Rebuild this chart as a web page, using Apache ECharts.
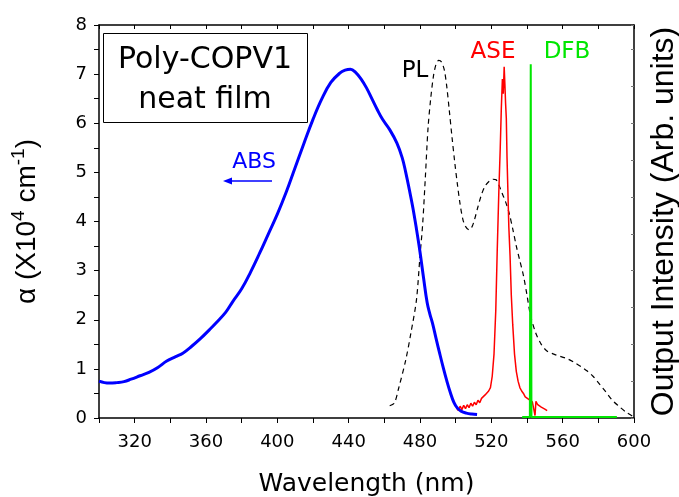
<!DOCTYPE html>
<html>
<head>
<meta charset="utf-8">
<script src="https://cdn.jsdelivr.net/npm/echarts@6/dist/echarts.min.js"></script>
<style>
html,body{margin:0;padding:0;background:#fff;}
#chart{width:679px;height:497px;}
</style>
</head>
<body>
<div id="chart"></div>
<script>
// ---- data (wavelength nm, value) ----
const xTickLabels = [320, 360, 400, 440, 480, 520, 560, 600];
const yTickLabels = [0, 1, 2, 3, 4, 5, 6, 7, 8];

const absData = [
  [300,0.75],[303,0.72],[306,0.71],[310,0.72],[314,0.74],[318,0.79],[323,0.86],[328,0.93],
  [333,1.03],[338,1.16],[343,1.25],[347,1.32],[352,1.46],[357,1.62],[362,1.8],[366,1.95],
  [371,2.15],[375,2.37],[380,2.63],[385,2.97],[390,3.35],[395,3.75],[400,4.15],[405,4.6],
  [410,5.1],[415,5.6],[420,6.08],[425,6.5],[430,6.83],[435,7.02],[438,7.08],[441,7.1],
  [444,7.03],[447,6.9],[450,6.72],[453,6.5],[456,6.28],[459,6.08],[463,5.87],[467,5.6],
  [470,5.3],[472,5.0],[474,4.65],[476,4.28],[478,3.85],[480,3.38],[482,2.85],[484,2.35],
  [485.5,2.12],[487,1.93],[489,1.62],[491,1.32],[493,1.03],[495,0.76],[497,0.52],[499,0.32],
  [501,0.2],[503,0.14],[506,0.1],[509,0.08],[512,0.07]
];

const plData = [
  [463,0.25],[465.6,0.3],[468,0.6],[472,1.18],[475,1.75],[478,2.4],[480,3.3],[481.5,3.95],
  [483,4.9],[484.5,5.9],[486,6.5],[487.5,6.95],[489,7.2],[490.5,7.28],[492,7.25],[493.6,7.09],
  [495,6.75],[496.4,6.27],[498,5.7],[499.5,5.2],[501,4.75],[502.5,4.35],[504,4.05],[505.5,3.9],
  [507.5,3.83],[509,3.88],[510.5,4.03],[512.5,4.3],[514.5,4.55],[516.5,4.72],[518.8,4.82],
  [521,4.86],[522.7,4.85],[524.5,4.72],[526,4.58],[528,4.4],[530,4.17],[532,3.85],[534,3.5],
  [536,3.2],[538,2.9],[540,2.5],[542,2.08],[545,1.72],[548,1.5],[551,1.37],[555,1.3],
  [559,1.25],[563,1.2],[567,1.12],[571,1.03],[574,0.95],[577,0.85],[580,0.72],[584,0.54],
  [587.6,0.37],[591.5,0.24],[595.5,0.12],[599,0.04]
];

const aseData = [
  [500.5,0.2],[501.5,0.15],[502.5,0.24],[503.5,0.17],[504.5,0.26],[505.5,0.19],[506.5,0.27],
  [507.5,0.21],[508.5,0.3],[509.5,0.24],[510.5,0.32],[511.5,0.27],[512.5,0.36],[513.5,0.31],
  [514.5,0.4],[515.5,0.36],[516.5,0.47],[517.5,0.45],[518.5,0.55],[519.5,0.62],[520.5,0.85],
  [521.5,1.3],[522.5,2.2],[523.3,3.4],[524.2,4.6],[525,5.5],[525.6,6.3],[526.2,6.9],[526.7,6.6],
  [527.2,7.15],[527.6,6.8],[528,6.4],[528.4,6.1],[528.8,5.3],[529.3,4.6],[529.8,3.9],[530.5,3.3],
  [531.2,2.5],[532,1.9],[533,1.3],[534,0.95],[535,0.75],[536,0.62],[537,0.55],[538,0.5],
  [539,0.43],[540,0.47],[541,0.38],[542,0.42],[543,0.33],[544,0.36],[544.5,0.05],[545,0.34],
  [546,0.27],[547,0.3],[548,0.22],[549,0.26],[550,0.18],[551,0.22],[551.3,0.15]
];

const dfbData = [
  [537.3,0.02],[541.6,0.02],[542.1,7.2],[542.5,0.02],[590.4,0.02]
];

// ---- chart ----
const chart = echarts.init(document.getElementById('chart'), null, {renderer: 'canvas'});
const axisColor = '#000';
const tickFont = 'DejaVu Sans';

const option = {
  backgroundColor: '#fff',
  animation: false,
  grid: {left: 99, right: 45, top: 25, bottom: 79, containLabel: false, outerBoundsMode: 'none'},
  xAxis: [
    {
      type: 'value', min: 300, max: 600, interval: 20,
      name: 'Wavelength (nm)', nameLocation: 'middle', nameGap: 54,
      nameTextStyle: {fontFamily: tickFont, fontSize: 25, color: '#000'},
      axisLine: {show: true, onZero: false, lineStyle: {color: axisColor, width: 1.5}},
      axisTick: {show: true, inside: false, length: 5, lineStyle: {color: axisColor, width: 1}},
      axisLabel: {
        margin: 15, fontFamily: tickFont, fontSize: 18, color: '#000',
        formatter: v => xTickLabels.includes(v) ? String(v) : ''
      },
      splitLine: {show: false}
    },
    {
      type: 'value', position: 'top', min: 300, max: 600, interval: 20,
      axisLine: {show: true, onZero: false, lineStyle: {color: axisColor, width: 1.5}},
      axisTick: {show: true, inside: true, length: 4, lineStyle: {color: axisColor, width: 1}},
      axisLabel: {show: false},
      splitLine: {show: false}
    }
  ],
  yAxis: [
    {
      type: 'value', min: 0, max: 8, interval: 0.5,
      name: '{m|α (X10}{s|4}{m| cm}{s|-1}{m|)}',
      nameLocation: 'middle', nameRotate: 90, nameGap: 54,
      nameTextStyle: {
        rich: {
          m: {fontFamily: 'Liberation Sans', fontSize: 28, color: '#000', lineHeight: 36},
          s: {fontFamily: 'Liberation Sans', fontSize: 19, color: '#000', verticalAlign: 'top', lineHeight: 36}
        }
      },
      axisLine: {show: true, onZero: false, lineStyle: {color: axisColor, width: 1.5}},
      axisTick: {show: true, inside: false, length: 5, lineStyle: {color: axisColor, width: 1}},
      axisLabel: {
        margin: 12, fontFamily: tickFont, fontSize: 18, color: '#000',
        formatter: v => yTickLabels.includes(v) ? String(v) : ''
      },
      splitLine: {show: false}
    },
    {
      type: 'value', min: 0, max: 8, interval: 0.75, position: 'right',
      name: 'Output Intensity (Arb. units)',
      nameLocation: 'middle', nameRotate: 90, nameGap: 14,
      nameTextStyle: {fontFamily: 'Liberation Sans', fontSize: 32, color: '#000'},
      axisLine: {show: true, onZero: false, lineStyle: {color: axisColor, width: 1.5}},
      axisTick: {show: true, inside: true, length: 3, lineStyle: {color: '#777', width: 1}},
      axisLabel: {show: false},
      splitLine: {show: false}
    }
  ],
  series: [
    {
      name: 'ABS', type: 'line', xAxisIndex: 0, yAxisIndex: 0, data: absData,
      showSymbol: false, smooth: 0.4, z: 5,
      lineStyle: {color: '#0000ff', width: 3}, itemStyle: {color: '#0000ff'}
    },
    {
      name: 'PL', type: 'line', xAxisIndex: 0, yAxisIndex: 1, data: plData,
      showSymbol: false, smooth: 0.3, z: 3,
      lineStyle: {color: '#000', width: 1.2, type: [5, 4]}, itemStyle: {color: '#000'}
    },
    {
      name: 'ASE', type: 'line', xAxisIndex: 0, yAxisIndex: 1, data: aseData,
      showSymbol: false, smooth: false, z: 4,
      lineStyle: {color: '#ff0000', width: 1.5}, itemStyle: {color: '#ff0000'}
    },
    {
      name: 'DFB', type: 'line', xAxisIndex: 0, yAxisIndex: 1, data: dfbData,
      showSymbol: false, smooth: false, z: 6,
      lineStyle: {color: '#00e600', width: 2}, itemStyle: {color: '#00e600'}
    }
  ],
  graphic: [
    {type: 'rect', shape: {x: 103.5, y: 33.5, width: 204, height: 89},
     style: {fill: '#fff', stroke: '#000', lineWidth: 1}, z: 10},
    {type: 'text', x: 205, y: 60, z: 11,
     style: {text: 'Poly-COPV1', fontFamily: tickFont, fontSize: 30, fill: '#000', textAlign: 'center', textVerticalAlign: 'middle'}},
    {type: 'text', x: 205, y: 100, z: 11,
     style: {text: 'neat film', fontFamily: tickFont, fontSize: 30, fill: '#000', textAlign: 'center', textVerticalAlign: 'middle'}},
    {type: 'text', x: 254, y: 162, z: 11,
     style: {text: 'ABS', fontFamily: tickFont, fontSize: 22, fill: '#0000ff', textAlign: 'center', textVerticalAlign: 'middle'}},
    {type: 'line', shape: {x1: 272, y1: 181, x2: 229, y2: 181}, z: 11,
     style: {stroke: '#0000ff', lineWidth: 1.5}},
    {type: 'polygon', shape: {points: [[223, 181], [232, 177.5], [232, 184.5]]}, z: 11,
     style: {fill: '#0000ff'}},
    {type: 'text', x: 415, y: 71, z: 11,
     style: {text: 'PL', fontFamily: tickFont, fontSize: 23, fill: '#000', textAlign: 'center', textVerticalAlign: 'middle'}},
    {type: 'text', x: 493, y: 52, z: 11,
     style: {text: 'ASE', fontFamily: tickFont, fontSize: 23, fill: '#ff0000', textAlign: 'center', textVerticalAlign: 'middle'}},
    {type: 'text', x: 567, y: 52, z: 11,
     style: {text: 'DFB', fontFamily: tickFont, fontSize: 23, fill: '#00e600', textAlign: 'center', textVerticalAlign: 'middle'}}
  ]
};
chart.setOption(option);
</script>
</body>
</html>
